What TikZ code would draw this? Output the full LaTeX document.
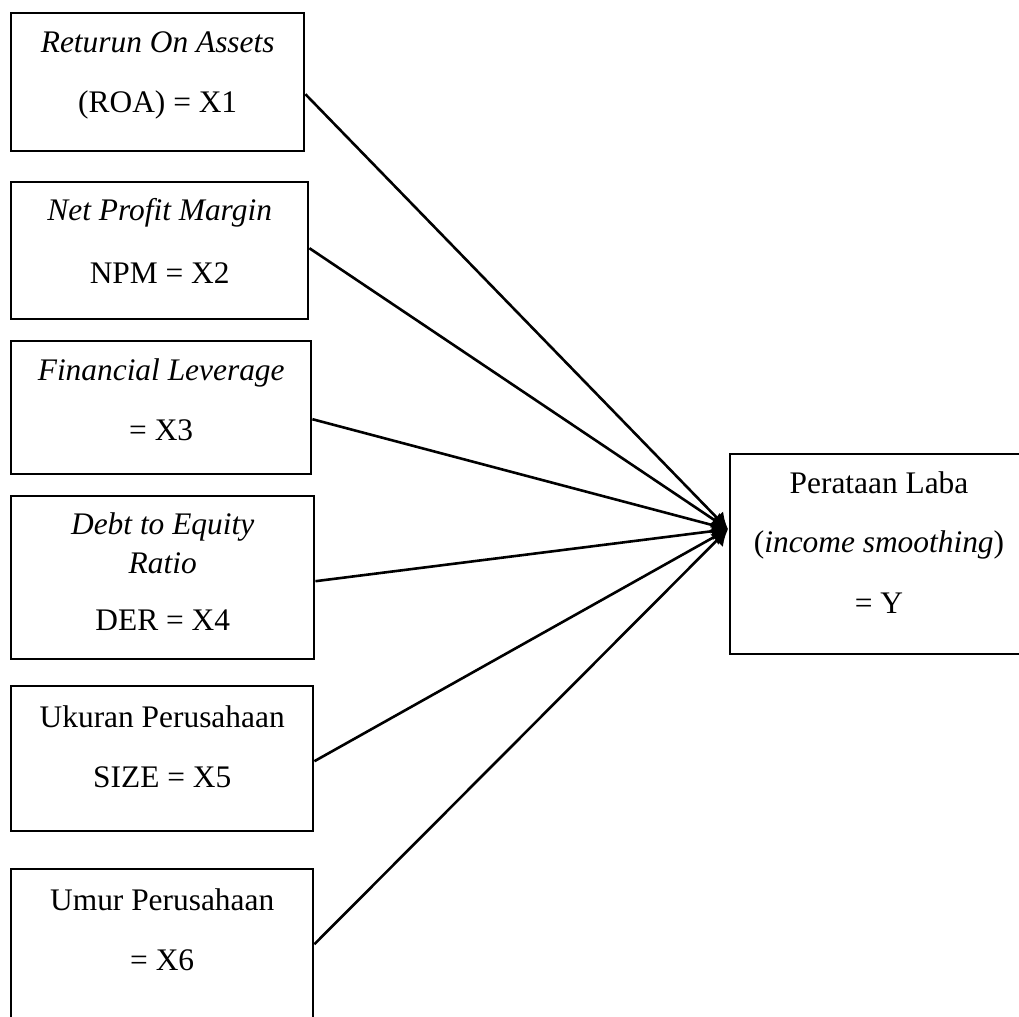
\documentclass[tikz,border=0pt]{standalone}
\usepackage{fontspec}
\setmainfont{Liberation Serif}
\usetikzlibrary{arrows.meta}
\tikzset{
  varbox/.style={draw,line width=1.2pt,anchor=north west,inner sep=0pt},
  lbl/.style={font=\fontsize{15.7}{18}\selectfont,inner sep=1pt},
  link/.style={line width=1.3pt,-{Latex[length=8pt,width=9pt]}}
}
\begin{document}
\begin{tikzpicture}[x=0.5pt,y=-0.5pt]
    \useasboundingbox (0,0) rectangle (1019,1017);
    \clip (0,0) rectangle (1019,1017);
    % independent variables
    \node[varbox,minimum width=146.5pt,minimum height=69pt] (b1) at (10,12) {};
    \node[varbox,minimum width=148.5pt,minimum height=68.5pt] (b2) at (10,181) {};
    \node[varbox,minimum width=150pt,minimum height=66.5pt] (b3) at (10,340) {};
    \node[varbox,minimum width=151.5pt,minimum height=81.5pt] (b4) at (10,495) {};
    \node[varbox,minimum width=151pt,minimum height=72.5pt] (b5) at (10,685) {};
    \node[varbox,minimum width=151pt,minimum height=85pt] (b6) at (10,868) {};
    \node[lbl] (t1a) at ([yshift=-15pt]b1.north) {\textit{Returun On Assets}};
    \node[lbl] (t1b) at ([yshift=-46.5pt]b1.north) {(ROA) = X1};
    \node[lbl] (t2a) at ([yshift=-16pt]b2.north) {\textit{Net Profit Margin}};
    \node[lbl] (t2b) at ([yshift=-46pt]b2.north) {NPM = X2};
    \node[lbl] (t3a) at ([yshift=-16.5pt]b3.north) {\textit{Financial Leverage}};
    \node[lbl] (t3b) at ([yshift=-45pt]b3.north) {= X3};
    \node[lbl] (t4a) at ([yshift=-16pt]b4.north) {\textit{Debt to Equity}};
    \node[lbl] (t4b) at ([yshift=-34pt]b4.north) {\textit{Ratio}};
    \node[lbl] (t4c) at ([yshift=-62.5pt]b4.north) {DER = X4};
    \node[lbl] (t5a) at ([yshift=-16pt]b5.north) {Ukuran Perusahaan};
    \node[lbl] (t5b) at ([yshift=-46pt]b5.north) {SIZE = X5};
    \node[lbl] (t6a) at ([yshift=-16pt]b6.north) {Umur Perusahaan};
    \node[lbl] (t6b) at ([yshift=-46pt]b6.north) {= X6};
    % dependent variable
    \node[varbox,minimum width=150pt,minimum height=100pt] (y) at (729,453) {};
    \node[lbl] (tya) at ([xshift=75pt,yshift=-15pt]y.north west) {Perataan Laba};
    \node[lbl] (tyb) at ([xshift=75pt,yshift=-46pt]y.north west) {(\textit{income smoothing})};
    \node[lbl] (tyc) at ([xshift=75pt,yshift=-75pt]y.north west) {= Y};
    \coordinate (tip) at ([xshift=-0.5pt,yshift=12.5pt]y.west);
    % arrows
    \draw[link] ([yshift=-6pt]b1.east) -- (tip);
    \draw[link] ([yshift=1.25pt]b2.east) -- (tip);
    \draw[link] ([yshift=-5.75pt]b3.east) -- (tip);
    \draw[link] ([yshift=-1.75pt]b4.east) -- (tip);
    \draw[link] ([yshift=-1.25pt]b5.east) -- (tip);
    \draw[link] ([yshift=5pt]b6.east) -- (tip);
\end{tikzpicture}
\end{document}
